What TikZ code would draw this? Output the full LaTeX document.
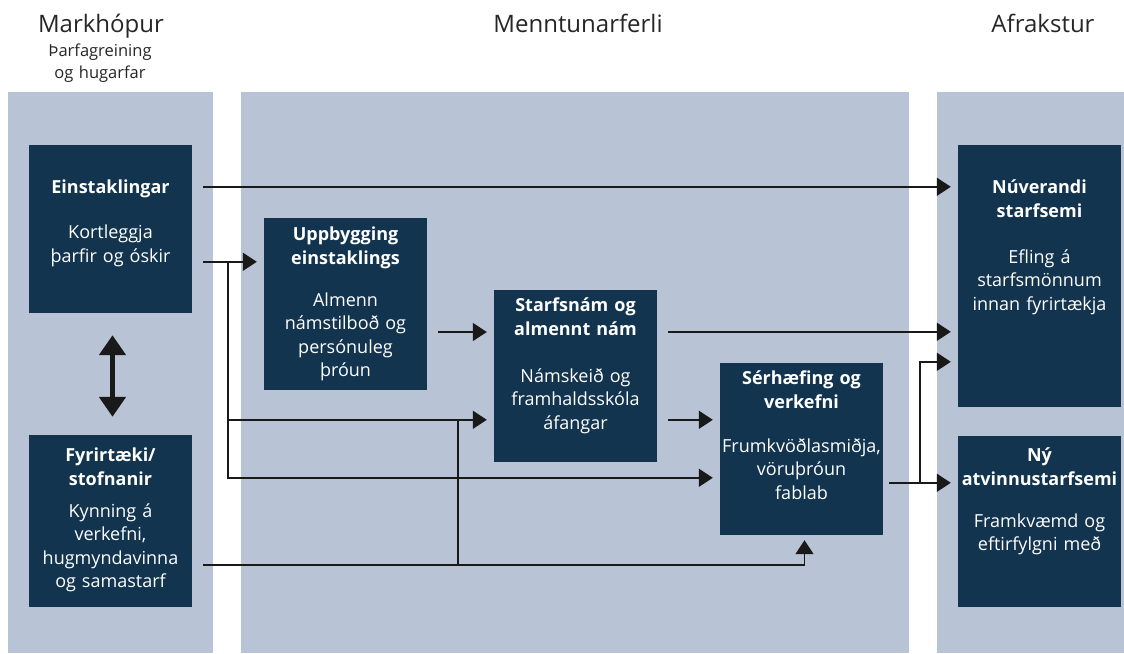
\documentclass[tikz,border=0pt]{standalone}
\usepackage{fontspec}
\setmainfont{Open Sans}
\usetikzlibrary{arrows.meta,calc}
\definecolor{panel}{HTML}{B9C3D6}
\definecolor{navy}{HTML}{12344F}
\tikzset{
  box/.style={fill=navy,minimum width=163pt,inner sep=0pt},
  boxtext/.style={text=white,anchor=base,align=center,text width=170pt,inner sep=0pt,
    font=\fontsize{18}{23.5}\selectfont},
  head/.style={anchor=base,inner sep=0pt,text=black!85,font=\fontsize{24}{26}\selectfont},
  subhead/.style={anchor=base,inner sep=0pt,align=center,text width=150pt,text=black!85,
    font=\fontsize{16.5}{22}\selectfont},
  conn/.style={line width=1.6pt,draw=black!90},
  arr/.style={conn,-{Triangle[length=14pt,width=18pt]},shorten >=7pt},
  twoway/.style={line width=5pt,draw=black!90,
    {Triangle[length=20pt,width=26pt]}-{Triangle[length=20pt,width=26pt]}}
}
\begin{document}
\begin{tikzpicture}[x=1pt,y=-1pt]
\useasboundingbox (0,0) rectangle (1124,653);

% columns
\fill[panel] (8,92) rectangle (213,653);
\fill[panel] (241,92) rectangle (909,653);
\fill[panel] (937,92) rectangle (1124,653);

% headings
\node[head] (h-mark) at (101,32) {Markhópur};
\node[subhead] (h-sub) at (100,56) {Þarfagreining\\og hugarfar};
\node[head] (h-menn) at (578,32) {Menntunarferli};
\node[head] (h-afr) at (1043,32) {Afrakstur};

% boxes
\node[box,minimum height=168pt] (ein) at (110.5,229) {};
\node[box,minimum height=172pt] (fyr) at (110.5,521) {};
\node[box,minimum height=172pt] (upp) at (345.5,304) {};
\node[box,minimum height=172pt] (sta) at (575.5,376) {};
\node[box,minimum height=172pt] (ser) at (801.5,449) {};
\node[box,minimum height=262pt] (nuv) at (1039.5,276) {};
\node[box,minimum height=171pt] (ny) at (1039.5,521.5) {};

\node[boxtext] (ein-t) at ($(ein.north)+(0,49)$) {\textbf{Einstaklingar}\\[21.5pt]Kortleggja\\þarfir og óskir};
\node[boxtext] (fyr-t) at ($(fyr.north)+(0,27)$) {\textbf{Fyrirtæki/}\\\textbf{stofnanir}\\[8.5pt]Kynning á\\verkefni,\\hugmyndavinna\\og samastarf};
\node[boxtext] (upp-t) at ($(upp.north)+(0,23)$) {\textbf{Uppbygging}\\\textbf{einstaklings}\\[18.5pt]Almenn\\námstilboð og\\persónuleg\\þróun};
\node[boxtext] (sta-t) at ($(sta.north)+(0,22)$) {\textbf{Starfsnám og}\\\textbf{almennt nám}\\[23.5pt]Námskeið og\\framhaldsskóla\\áfangar};
\node[boxtext] (ser-t) at ($(ser.north)+(0,22)$) {\textbf{Sérhæfing og}\\\textbf{verkefni}\\[20.5pt]Frumkvöðlasmiðja,\\vöruþróun\\fablab};
\node[boxtext] (nuv-t) at ($(nuv.north)+(0,49)$) {\textbf{Núverandi}\\\textbf{starfsemi}\\[22.5pt]Efling á\\starfsmönnum\\innan fyrirtækja};
\node[boxtext] (ny-t) at ($(ny.north)+(0,26)$) {\textbf{Ný}\\\textbf{atvinnustarfsemi}\\[18.5pt]Framkvæmd og\\eftirfylgni með};

% connectors
\coordinate (e1) at ($(ein.north east)+(11,42)$);
\draw[arr] (e1) -- (e1 -| nuv.west);
\coordinate (e2) at ($(ein.north east)+(11,117)$);
\draw[arr] (e2) -- (e2 -| upp.west);
\coordinate (j1) at ($(ein.north east)+(36,117)$);
\draw[arr] (j1) |- ($(sta.north west)+(0,130)$);
\draw[arr] (j1) |- ($(ser.north west)+(0,115)$);

\coordinate (u1) at ($(upp.east)+(11,28)$);
\draw[arr] (u1) -- (u1 -| sta.west);
\coordinate (s1) at ($(sta.north east)+(11,42)$);
\draw[arr] (s1) -- (s1 -| nuv.west);
\coordinate (s2) at ($(sta.north east)+(11,130)$);
\draw[arr] (s2) -- (s2 -| ser.west);

\coordinate (r1) at ($(ser.north east)+(6,120)$);
\draw[arr] (r1) -- (r1 -| ny.west);
\coordinate (j3) at ($(ser.north east)+(37,120)$);
\draw[arr] (j3) |- ($(nuv.north west)+(0,217)$);

\coordinate (f1) at ($(fyr.north east)+(11,130)$);
\draw[arr,shorten >=5pt] (f1) -| ($(ser.south)+(3,0)$);
\coordinate (j2) at ($(sta.north west)+(-36,130)$);
\draw[conn] (j2) -- (j2 |- f1);

\draw[twoway] ($(ein.south)+(2,22)$) -- ($(fyr.north)+(2,-18)$);
\end{tikzpicture}
\end{document}
